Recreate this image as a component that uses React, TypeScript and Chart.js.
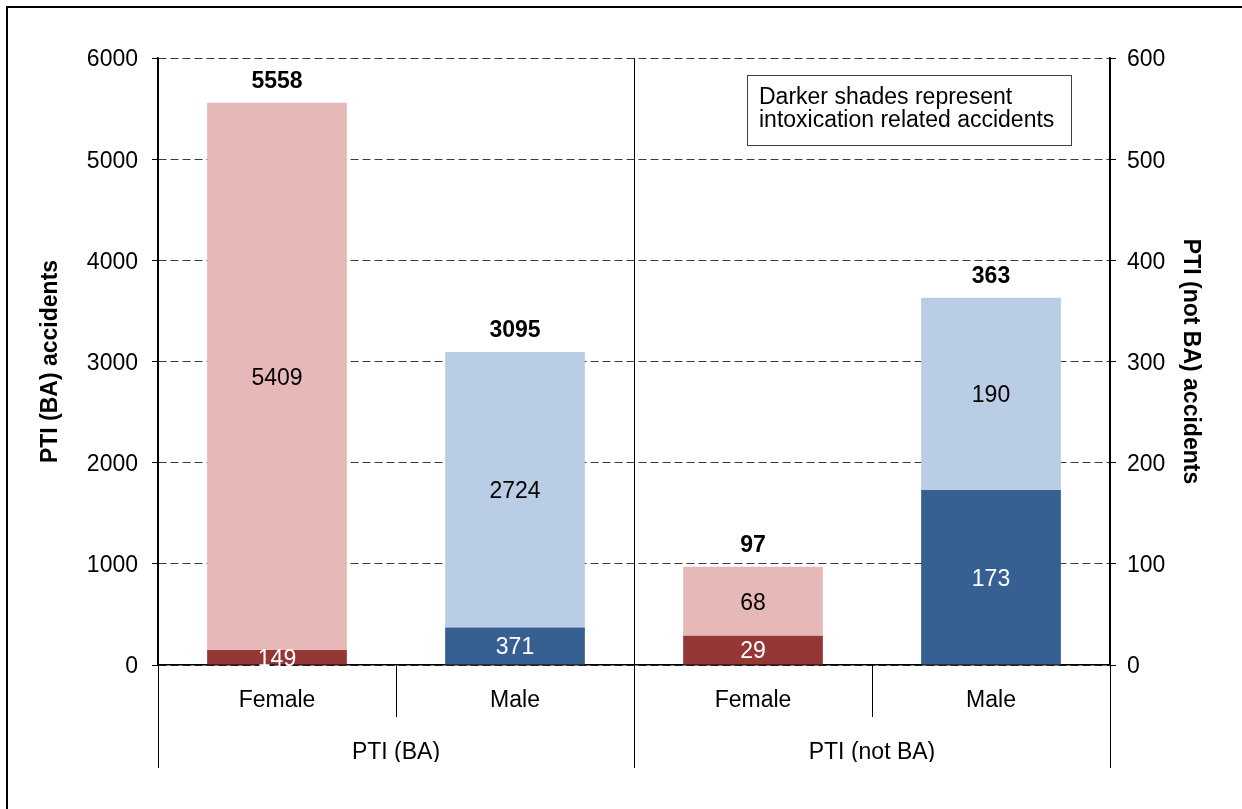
import React, { useEffect, useRef } from 'react';
import { Chart, registerables } from 'chart.js';

Chart.register(...registerables);

// ---- data ----
const categories = ['Female', 'Male', 'Female', 'Male'];
const groupLabels = ['PTI (BA)', 'PTI (not BA)'];
const baIntoxicated = [149, 371, null, null];
const baOther = [5409, 2724, null, null];
const notBaIntoxicated = [null, null, 29, 173];
const notBaOther = [null, null, 68, 190];
const totals = [5558, 3095, 97, 363];
const leftAxis = { min: 0, max: 6000, step: 1000, title: 'PTI (BA) accidents' };
const rightAxis = { min: 0, max: 600, step: 100, title: 'PTI (not BA) accidents' };
const noteLines = ['Darker shades represent', 'intoxication related accidents'];

// ---- styles ----
const darkColors = ['#953735', '#376092', '#953735', '#376092'];
const lightColors = ['#E6B9B8', '#B9CDE5', '#E6B9B8', '#B9CDE5'];
const FONT = '"Liberation Sans", Arial, Helvetica, sans-serif';
const FS = 23;

const barLabelPlugin = {
  id: 'barLabels',
  afterDatasetsDraw(chart: any) {
    const ctx = chart.ctx;
    ctx.save();
    ctx.textAlign = 'center';
    ctx.textBaseline = 'middle';
    chart.data.datasets.forEach((ds: any, di: number) => {
      const meta = chart.getDatasetMeta(di);
      meta.data.forEach((el: any, i: number) => {
        const v = ds.data[i];
        if (v == null) return;
        const { x, y, base } = el.getProps(['x', 'y', 'base'], true);
        ctx.font = `${FS}px ${FONT}`;
        ctx.fillStyle = ds.labelColor;
        ctx.fillText(String(v), x, (y + base) / 2 + 2);
        if (ds.isTop) {
          ctx.font = `bold ${FS}px ${FONT}`;
          ctx.fillStyle = '#000';
          ctx.fillText(String(totals[i]), x, y - 21);
        }
      });
    });
    ctx.restore();
  },
};

const notePlugin = {
  id: 'noteBox',
  afterDraw(chart: any) {
    const { ctx, chartArea } = chart;
    const bx = chartArea.right - 363;
    const by = chartArea.top + 17;
    ctx.save();
    ctx.fillStyle = '#fff';
    ctx.fillRect(bx, by, 324, 70);
    ctx.strokeStyle = '#404040';
    ctx.lineWidth = 1;
    ctx.strokeRect(Math.round(bx) + 0.5, Math.round(by) + 0.5, 324, 70);
    ctx.fillStyle = '#000';
    ctx.font = `${FS}px ${FONT}`;
    ctx.textAlign = 'left';
    ctx.textBaseline = 'alphabetic';
    noteLines.forEach((t, i) => ctx.fillText(t, bx + 12, by + 29 + i * 23));
    ctx.restore();
  },
};

export default function App() {
  const ref = useRef<HTMLCanvasElement | null>(null);

  useEffect(() => {
    if (!ref.current) return;
    const tickFont = { family: FONT, size: FS };
    const chart = new Chart(ref.current, {
      type: 'bar',
      data: {
        labels: categories,
        datasets: [
          { label: 'BA intoxicated', data: baIntoxicated, yAxisID: 'y', backgroundColor: darkColors, labelColor: '#fff', isTop: false } as any,
          { label: 'BA other', data: baOther, yAxisID: 'y', backgroundColor: lightColors, labelColor: '#000', isTop: true } as any,
          { label: 'not BA intoxicated', data: notBaIntoxicated, yAxisID: 'y1', backgroundColor: darkColors, labelColor: '#fff', isTop: false } as any,
          { label: 'not BA other', data: notBaOther, yAxisID: 'y1', backgroundColor: lightColors, labelColor: '#000', isTop: true } as any,
        ],
      },
      options: {
        responsive: false,
        animation: false,
        devicePixelRatio: 1,
        layout: { padding: { top: 50, left: 0, right: 0, bottom: 47 } },
        datasets: { bar: { categoryPercentage: 1, barPercentage: 0.587, borderWidth: 0 } },
        plugins: { legend: { display: false }, tooltip: { enabled: false } },
        scales: {
          x: {
            type: 'category',
            stacked: true,
            offset: true,
            weight: 0,
            z: 1,
            grid: { offset: true, drawOnChartArea: false, drawTicks: true, tickLength: 52, color: '#000', lineWidth: 1 },
            border: { display: true, color: '#000', width: 1.5 },
            ticks: { font: { ...tickFont, lineHeight: '38px' }, padding: -35, color: '#000', autoSkip: false, maxRotation: 0, minRotation: 0 },
            afterFit: (s: any) => { s.height = 52; },
          },
          x2: {
            type: 'category',
            labels: groupLabels,
            position: 'bottom',
            offset: true,
            weight: 1,
            grid: { offset: true, drawOnChartArea: true, drawTicks: true, tickLength: 51, color: '#000', lineWidth: 1 },
            border: { display: false },
            ticks: { font: { ...tickFont, lineHeight: '27px' }, padding: -28.5, color: '#000', autoSkip: false, maxRotation: 0, minRotation: 0 },
            afterFit: (s: any) => { s.height = 45; },
          },
          y: {
            type: 'linear',
            position: 'left',
            stacked: true,
            min: leftAxis.min,
            max: leftAxis.max,
            ticks: { stepSize: leftAxis.step, padding: 14, font: tickFont, color: '#000', labelOffset: 2, callback: (v: any) => String(v) },
            grid: { color: '#3a3a3a', lineWidth: 1, tickLength: 6, tickColor: '#000', tickBorderDash: [] },
            border: { display: true, color: '#000', width: 1.5, dash: [8, 4] },
            title: { display: true, text: leftAxis.title, color: '#000', font: { family: FONT, size: FS, weight: 'bold' }, padding: { top: 29.2, bottom: 0 } },
            afterFit: (s: any) => { s.width = 150; },
          },
          y1: {
            type: 'linear',
            position: 'right',
            stacked: true,
            min: rightAxis.min,
            max: rightAxis.max,
            ticks: { stepSize: rightAxis.step, padding: 11, font: tickFont, color: '#000', labelOffset: 2, callback: (v: any) => String(v) },
            grid: { drawOnChartArea: false, tickLength: 6, color: '#000', tickColor: '#000' },
            border: { display: true, color: '#000', width: 1.5 },
            title: { display: true, text: rightAxis.title, color: '#000', font: { family: FONT, size: FS, weight: 'bold' }, padding: { top: 38.2, bottom: 0 } },
            afterFit: (s: any) => { s.width = 132; },
          },
        },
      } as any,
      plugins: [barLabelPlugin, notePlugin],
    });
    return () => chart.destroy();
  }, []);

  return (
    <div
      style={{
        position: 'absolute',
        left: 6,
        top: 6,
        borderTop: '2px solid #000',
        borderLeft: '2px solid #000',
        width: 1234,
        height: 801,
        background: '#fff',
      }}
    >
      <canvas ref={ref} width={1234} height={801} style={{ display: 'block' }} />
    </div>
  );
}
